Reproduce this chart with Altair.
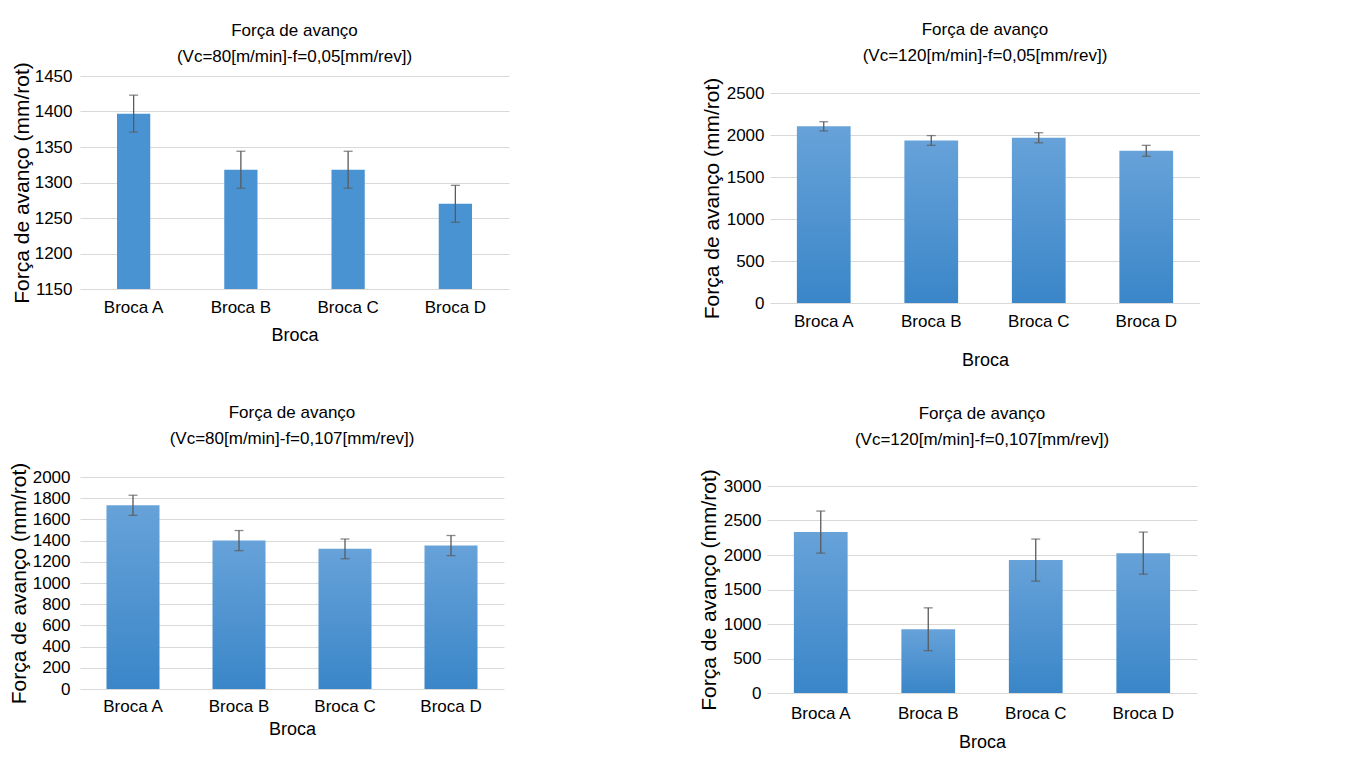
import altair as alt
import pandas as pd

brocas = ["Broca A", "Broca B", "Broca C", "Broca D"]

title_main = "Força de avanço"
sub_80_005 = "(Vc=80[m/min]-f=0,05[mm/rev])"
sub_120_005 = "(Vc=120[m/min]-f=0,05[mm/rev])"
sub_80_0107 = "(Vc=80[m/min]-f=0,107[mm/rev])"
sub_120_0107 = "(Vc=120[m/min]-f=0,107[mm/rev])"

mean_80_005 = [1397, 1318, 1318, 1270]
err_80_005 = [26, 26, 26, 26]
mean_120_005 = [2103, 1935, 1967, 1812]
err_120_005 = [55, 58, 60, 65]
mean_80_0107 = [1733, 1400, 1322, 1353]
err_80_0107 = [95, 95, 93, 95]
mean_120_0107 = [2332, 924, 1926, 2027]
err_120_0107 = [305, 310, 305, 305]

ticks_80_005 = [1150, 1200, 1250, 1300, 1350, 1400, 1450]
ticks_120_005 = [0, 500, 1000, 1500, 2000, 2500]
ticks_80_0107 = [0, 200, 400, 600, 800, 1000, 1200, 1400, 1600, 1800, 2000]
ticks_120_0107 = [0, 500, 1000, 1500, 2000, 2500, 3000]

FONT = "Liberation Sans, Arial"

flat_fill = "#4A93D2"
grad_fill = alt.Gradient(
    gradient="linear",
    stops=[alt.GradientStop(offset=0, color="#67A2D9"),
           alt.GradientStop(offset=1, color="#3A86C8")],
    x1=0, x2=0, y1=0, y2=1,
)


def spacer():
    return alt.Chart(pd.DataFrame({"s": [0]})).mark_point(opacity=0).encode(
        x=alt.value(0), y=alt.value(0)).properties(width=1, height=1)


def panel(means, errs, ticks, sub, w, h, toff, fill, pin, lpad_y, tpad_y, lpad_x, tpad_x):
    df = pd.DataFrame({
        "broca": brocas,
        "val": means,
        "lo": [m - e for m, e in zip(means, errs)],
        "hi": [m + e for m, e in zip(means, errs)],
        "base": [ticks[0]] * len(brocas),
    })
    xs = alt.X("broca:N", sort=brocas,
               scale=alt.Scale(paddingInner=pin, paddingOuter=pin / 2),
               axis=alt.Axis(labelAngle=0, title="Broca", ticks=False, domain=False,
                             labelPadding=lpad_x, titlePadding=tpad_x,
                             labelFontSize=17, titleFontSize=18))
    ysc = alt.Scale(domain=[ticks[0], ticks[-1]], nice=False, zero=False)
    yax = alt.Axis(values=ticks, format="d", title="Força de avanço (mm/rot)", grid=True,
                   gridColor="#D9D9D9", domain=False, ticks=False,
                   labelPadding=lpad_y, titlePadding=tpad_y,
                   labelFontSize=17, titleFontSize=21)
    base = alt.Chart(df)
    bars = base.mark_bar(color=fill).encode(
        x=xs, y=alt.Y("val:Q", scale=ysc, axis=yax), y2="base:Q")
    rule = base.mark_rule(color="#5A5A5A", strokeWidth=1.3).encode(
        x=xs, y=alt.Y("lo:Q", scale=ysc, axis=yax), y2="hi:Q")
    cap_hi = base.mark_tick(color="#5A5A5A", thickness=1.3, size=9).encode(
        x=xs, y=alt.Y("hi:Q", scale=ysc, axis=yax))
    cap_lo = base.mark_tick(color="#5A5A5A", thickness=1.3, size=9).encode(
        x=xs, y=alt.Y("lo:Q", scale=ysc, axis=yax))
    layered = alt.layer(bars, rule, cap_hi, cap_lo).properties(
        width=w, height=h,
        title=alt.TitleParams(text=[title_main, sub], fontSize=17,
                              fontWeight="normal", color="#000000", anchor="middle",
                              lineHeight=26, offset=toff),
    )
    return alt.vconcat(spacer(), layered, spacing=0)


p1 = panel(mean_80_005, err_80_005, ticks_80_005, sub_80_005, 429, 213, -4, flat_fill, 0.69, 8, 2, 10, 11)
p2 = panel(mean_120_005, err_120_005, ticks_120_005, sub_120_005, 430, 210, 12, grad_fill, 0.5, 6, 4, 10, 22)
p3 = panel(mean_80_0107, err_80_0107, ticks_80_0107, sub_80_0107, 424, 212, 14, grad_fill, 0.5, 10, 3, 9, 6)
p4 = panel(mean_120_0107, err_120_0107, ticks_120_0107, sub_120_0107, 430, 207, 20, grad_fill, 0.5, 6, 4, 12, 12)

row1 = alt.hconcat(p1, p2, spacing=192)
row2 = alt.hconcat(p3, p4, spacing=194)

chart = alt.vconcat(row1, row2, spacing=29).properties(
    padding={"left": 0, "top": 7, "right": 0, "bottom": 0}
).configure_view(stroke=None).configure_axis(
    labelColor="#000000", titleColor="#000000", titleFontWeight="normal",
    labelFont=FONT, titleFont=FONT
).configure_title(font=FONT)

chart.save("out.html", embed_options={"renderer": "svg", "actions": False})
